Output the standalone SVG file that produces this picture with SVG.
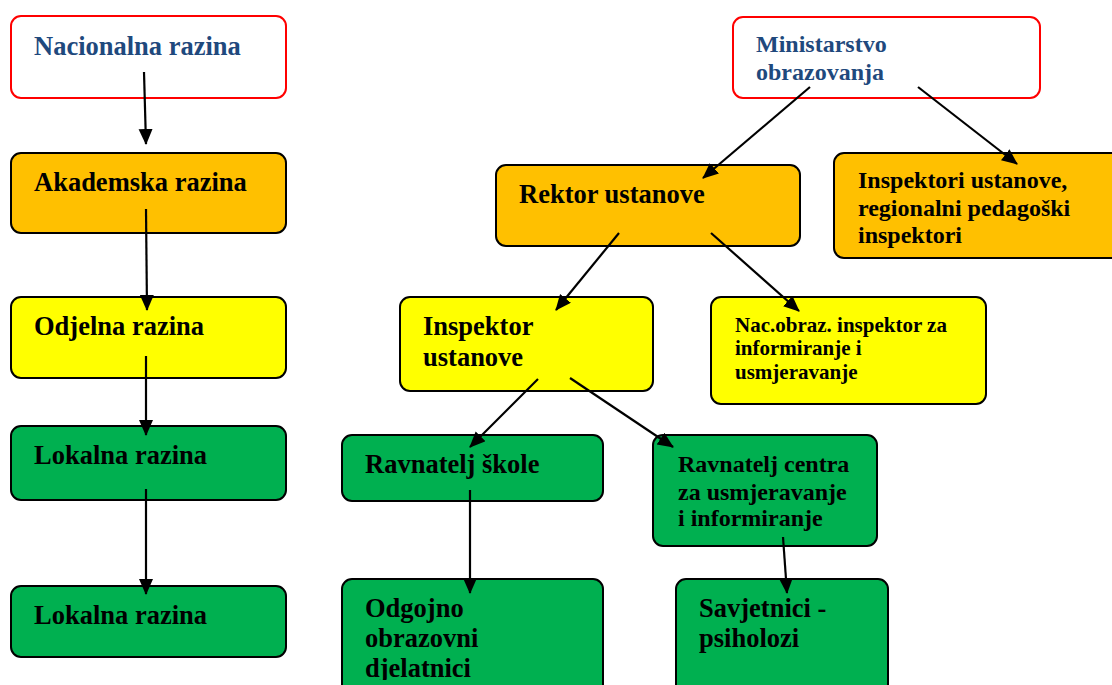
<svg xmlns="http://www.w3.org/2000/svg" width="1112" height="685" viewBox="0 0 1112 685">
<style>
.box{stroke:#000;stroke-width:2}
.red{fill:#fff;stroke:#ff0000;stroke-width:2}
.orange{fill:#ffc000}
.yellow{fill:#ffff00}
.green{fill:#00b050}
text{font-family:"Liberation Serif","Times New Roman",serif;font-weight:bold;fill:#000}
.l{font-size:26.5px}
.m{font-size:24px}
.s{font-size:21px}
.blue{fill:#1f497d}
.conn line{stroke:#000;stroke-width:2.2}
</style>
<defs>
<marker id="ah" markerUnits="userSpaceOnUse" markerWidth="17" markerHeight="15" refX="15" refY="7" orient="auto">
<path d="M0,0 L16,7 L0,14 z" fill="#000"/>
</marker>
<clipPath id="cut"><rect x="0" y="0" width="1112" height="680"/></clipPath>
</defs>
<rect width="1112" height="685" fill="#fff"/>
<g id="nacionalna"><rect class="red" x="11" y="16" width="275" height="82" rx="10"/><text class="l blue" x="34" y="55">Nacionalna razina</text></g>
<g id="akademska"><rect class="box orange" x="11" y="153" width="275" height="80" rx="10"/><text class="l" x="34" y="191">Akademska razina</text></g>
<g id="odjelna"><rect class="box yellow" x="11" y="297" width="275" height="81" rx="10"/><text class="l" x="34" y="335">Odjelna razina</text></g>
<g id="lokalna1"><rect class="box green" x="11" y="426" width="275" height="74" rx="10"/><text class="l" x="34" y="464">Lokalna razina</text></g>
<g id="lokalna2"><rect class="box green" x="11" y="586" width="275" height="71" rx="10"/><text class="l" x="34" y="624">Lokalna razina</text></g>
<g id="ministarstvo"><rect class="red" x="733" y="17" width="307" height="81" rx="10"/><text class="m blue" x="756" y="52">Ministarstvo</text><text class="m blue" x="756" y="80">obrazovanja</text></g>
<g id="rektor"><rect class="box orange" x="496" y="165" width="304" height="81" rx="10"/><text class="l" x="519" y="203">Rektor ustanove</text></g>
<g id="inspektori"><rect class="box orange" x="834" y="153" width="292" height="105" rx="10"/><text class="m" x="858" y="188">Inspektori ustanove,</text><text class="m" x="858" y="216">regionalni pedagoški</text><text class="m" x="858" y="243">inspektori</text></g>
<g id="inspektor"><rect class="box yellow" x="400" y="297" width="253" height="94" rx="10"/><text class="l" x="423" y="335">Inspektor</text><text class="l" x="423" y="366">ustanove</text></g>
<g id="nacobraz"><rect class="box yellow" x="711" y="297" width="275" height="107" rx="10"/><text class="s" x="735" y="332">Nac.obraz. inspektor za</text><text class="s" x="735" y="355">informiranje i</text><text class="s" x="735" y="379">usmjeravanje</text></g>
<g id="ravnatelj-skole"><rect class="box green" x="342" y="435" width="261" height="66" rx="10"/><text class="l" x="365" y="473">Ravnatelj škole</text></g>
<g id="ravnatelj-centra"><rect class="box green" x="653" y="435" width="224" height="111" rx="10"/><text class="m" x="678" y="472">Ravnatelj centra</text><text class="m" x="678" y="500">za usmjeravanje</text><text class="m" x="678" y="526">i informiranje</text></g>
<g id="odgojno"><rect class="box green" x="342" y="579" width="261" height="130" rx="10"/><g clip-path="url(#cut)"><text class="l" x="365" y="617">Odgojno</text><text class="l" x="365" y="647">obrazovni</text><text class="l" x="365" y="677">djelatnici</text></g></g>
<g id="savjetnici"><rect class="box green" x="676" y="579" width="212" height="130" rx="10"/><text class="l" x="699" y="617">Savjetnici -</text><text class="l" x="699" y="647">psiholozi</text></g>
<g id="connectors" class="conn">
<line x1="144" y1="72" x2="146" y2="144" marker-end="url(#ah)"/>
<line x1="146" y1="209" x2="147" y2="310" marker-end="url(#ah)"/>
<line x1="146" y1="356" x2="146" y2="435" marker-end="url(#ah)"/>
<line x1="146" y1="489" x2="146" y2="594" marker-end="url(#ah)"/>
<line x1="810" y1="87" x2="703" y2="178" marker-end="url(#ah)"/>
<line x1="918" y1="87" x2="1017" y2="164" marker-end="url(#ah)"/>
<line x1="619" y1="233" x2="556" y2="310" marker-end="url(#ah)"/>
<line x1="711" y1="233" x2="799" y2="311" marker-end="url(#ah)"/>
<line x1="538" y1="379" x2="470" y2="447" marker-end="url(#ah)"/>
<line x1="570" y1="378" x2="673" y2="447" marker-end="url(#ah)"/>
<line x1="470" y1="490" x2="470" y2="593" marker-end="url(#ah)"/>
<line x1="783" y1="537" x2="787" y2="593" marker-end="url(#ah)"/>
</g>
</svg>
